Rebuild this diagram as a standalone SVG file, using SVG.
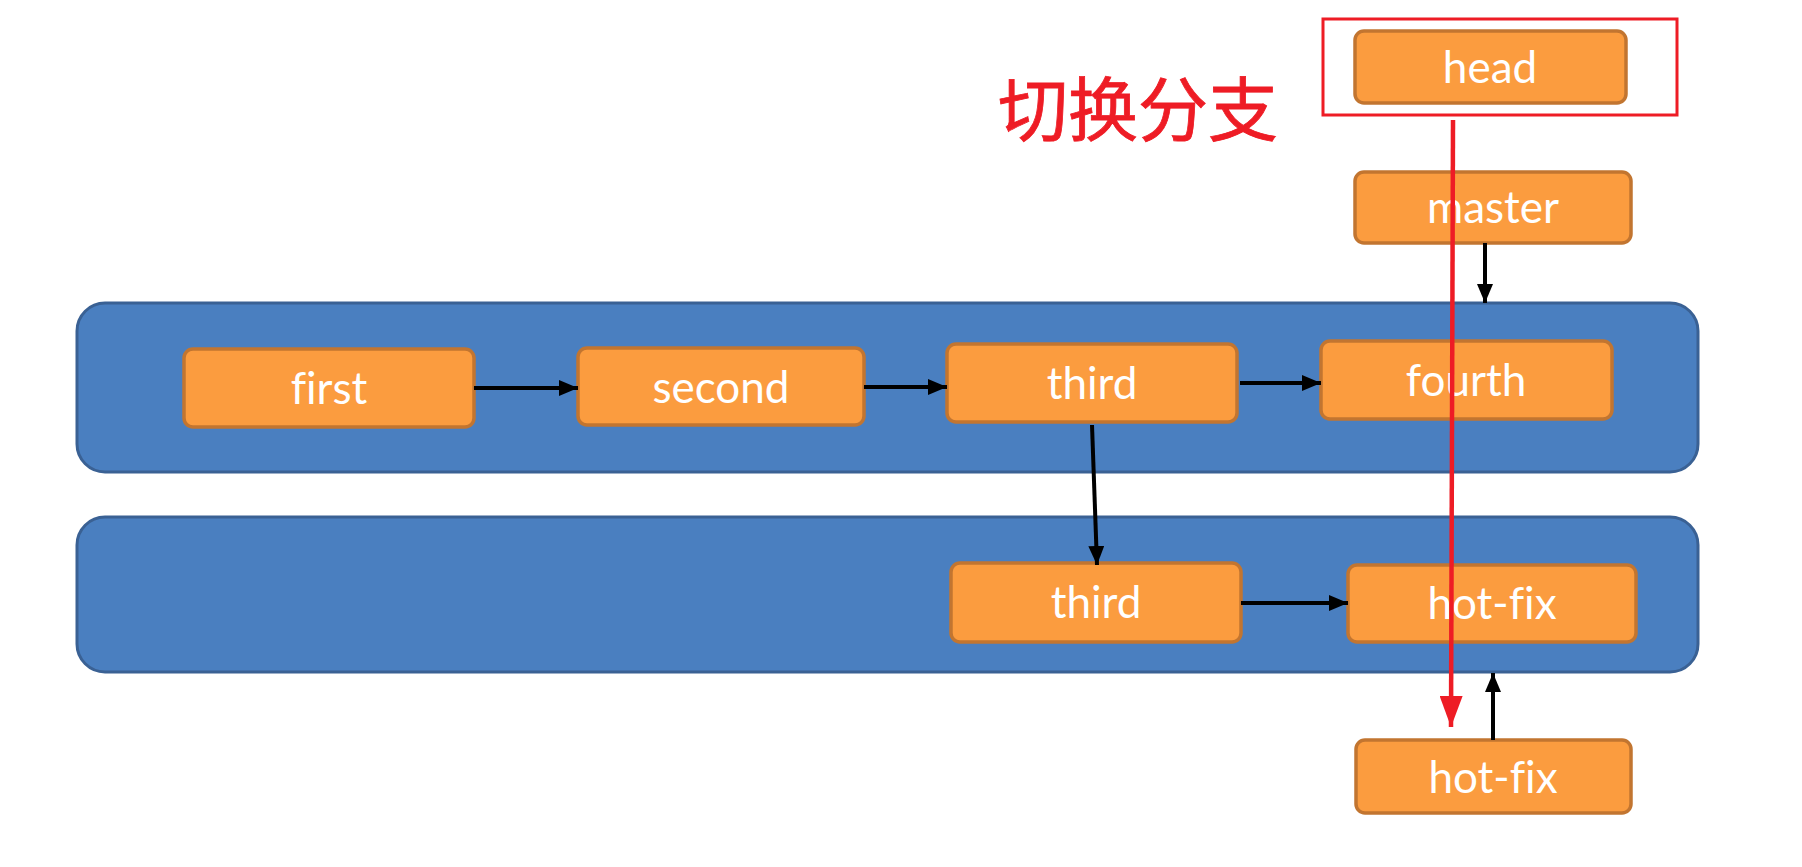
<svg xmlns="http://www.w3.org/2000/svg" width="1802" height="867" viewBox="0 0 1802 867">
<style>
.panel{fill:#4a7fc0;stroke:#3a6194;stroke-width:3}
.node rect{fill:#fb9c3f;stroke:#c27530;stroke-width:3.5}
.node text{fill:#ffffff;font-family:Lato,"Open Sans","Liberation Sans",sans-serif;font-size:44px;text-anchor:middle;font-variant-ligatures:none}
.conn{stroke:#000000;stroke-width:4;fill:none}
.red{stroke:#ee1c25;stroke-width:4.5;fill:none}
</style>
<defs>
<marker id="ah" markerUnits="userSpaceOnUse" markerWidth="19" markerHeight="16" refX="19" refY="8" orient="auto"><path d="M0,0 L19,8 L0,16 z" fill="#000000"/></marker>
<marker id="rh" markerUnits="userSpaceOnUse" markerWidth="31" markerHeight="23" refX="31" refY="11.5" orient="auto"><path d="M0,0 L31,11.5 L0,23 z" fill="#ee1c25"/></marker>
</defs>
<rect width="1802" height="867" fill="#ffffff"/>
<g id="panel-master"><rect class="panel" x="77" y="303" width="1621" height="169" rx="28"/></g>
<g id="panel-hotfix"><rect class="panel" x="77" y="517" width="1621" height="155" rx="28"/></g>
<text id="label-switch" x="998" y="136" fill="#ee1c25" stroke="#ee1c25" stroke-width="0.8" font-family="'Noto Sans CJK SC','Noto Sans CJK JP',sans-serif" font-size="70">切换分支</text>
<g id="head-highlight"><rect x="1323" y="19" width="354" height="96" fill="none" stroke="#ee1c25" stroke-width="3"/></g>
<g id="node-head" class="node"><rect x="1355" y="31" width="271" height="72" rx="9"/><text x="1490" y="83">head</text></g>
<g id="node-master" class="node"><rect x="1355" y="172" width="276" height="71" rx="9"/><text x="1493" y="223">master</text></g>
<g id="node-first" class="node"><rect x="184" y="349" width="290" height="78" rx="9"/><text x="329" y="404">first</text></g>
<g id="node-second" class="node"><rect x="578" y="348" width="286" height="77" rx="9"/><text x="721" y="403">second</text></g>
<g id="node-third" class="node"><rect x="947" y="344" width="290" height="78" rx="9"/><text x="1092" y="399">third</text></g>
<g id="node-fourth" class="node"><rect x="1321" y="341" width="291" height="78" rx="9"/><text x="1466" y="396">fourth</text></g>
<g id="node-third-2" class="node"><rect x="951" y="563" width="290" height="79" rx="9"/><text x="1096" y="618">third</text></g>
<g id="node-hotfix" class="node"><rect x="1348" y="565" width="288" height="77" rx="9"/><text x="1492" y="619">hot-fix</text></g>
<g id="node-hotfix-branch" class="node"><rect x="1356" y="740" width="275" height="73" rx="9"/><text x="1493" y="793">hot-fix</text></g>
<g id="connectors">
<line class="conn" x1="474" y1="388" x2="578" y2="388" marker-end="url(#ah)"/>
<line class="conn" x1="864" y1="387" x2="947" y2="387" marker-end="url(#ah)"/>
<line class="conn" x1="1240" y1="383" x2="1321" y2="383" marker-end="url(#ah)"/>
<line class="conn" x1="1092" y1="425" x2="1097" y2="565" marker-end="url(#ah)"/>
<line class="conn" x1="1241" y1="603" x2="1348" y2="603" marker-end="url(#ah)"/>
<line class="conn" x1="1485" y1="243" x2="1485" y2="303" marker-end="url(#ah)"/>
<line class="conn" x1="1493" y1="740" x2="1493" y2="673" marker-end="url(#ah)"/>
<line class="red" x1="1453" y1="120" x2="1451" y2="727" marker-end="url(#rh)"/>
</g>
</svg>
